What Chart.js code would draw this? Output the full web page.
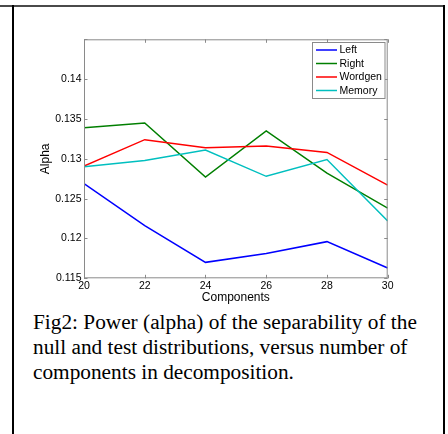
<!DOCTYPE html>
<html>
<head>
<meta charset="utf-8">
<script src="https://cdn.jsdelivr.net/npm/chart.js@4/dist/chart.umd.min.js"></script>
<style>
  body { margin: 0; background: #fff; }
  #wrap { position: relative; width: 448px; height: 434px; overflow: hidden; }
  #topline { position: absolute; left: 0; top: 5px; width: 445px; height: 2px; background: #4a4a4a; }
  #leftline { position: absolute; left: 12px; top: 5px; width: 2px; height: 429px; background: #000; }
  #rightline { position: absolute; left: 443px; top: 5px; width: 2px; height: 429px; background: #000; }
  #chartbox { position: absolute; left: 0; top: 0; width: 448px; height: 310px; }
  #caption {
    position: absolute; left: 33px; top: 309.5px;
    font-family: "Liberation Serif", "Times New Roman", serif;
    font-size: 21.3px; line-height: 25px; color: #000; white-space: nowrap;
  }
</style>
</head>
<body>
<div id="wrap">
  <div id="topline"></div>
  <div id="leftline"></div>
  <div id="rightline"></div>
  <div id="chartbox"><canvas id="myChart" width="448" height="310"></canvas></div>
  <div id="caption">Fig2: Power (alpha) of the separability of the<br>null and test distributions, versus number of<br>components in decomposition.</div>
</div>
<script>
// components on the x axis
var components = [20, 22, 24, 26, 28, 30];
var leftVals = [0.1269, 0.1216, 0.1170, 0.1181, 0.1196, 0.1163];
var rightVals = [0.1339, 0.1345, 0.1277, 0.1335, 0.1282, 0.1238];
var wordgenVals = [0.1291, 0.1324, 0.1314, 0.1316, 0.1308, 0.1267];
var memoryVals = [0.1290, 0.1298, 0.1311, 0.1278, 0.1299, 0.1222];
var seriesNames = ["Left", "Right", "Wordgen", "Memory"];
var seriesColors = ["#0000ff", "#007f00", "#ff0000", "#00bfbf"];
var xTicks = [20, 22, 24, 26, 28, 30];
var yTicks = [0.115, 0.12, 0.125, 0.13, 0.135, 0.14, 0.145];

var font = "'Liberation Sans', Arial, Helvetica, sans-serif";

function toPoints(vals) {
  return components.map(function (c, i) { return {x: c, y: vals[i]}; });
}

var allVals = [leftVals, rightVals, wordgenVals, memoryVals];
var datasets = seriesNames.map(function (name, i) {
  return {
    label: name,
    data: toPoints(allVals[i]),
    borderColor: seriesColors[i],
    backgroundColor: seriesColors[i],
    borderWidth: 1.5,
    pointRadius: 0,
    tension: 0,
    order: seriesNames.length - i
  };
});

// matlab style box, inward ticks and legend box
var matlabBox = {
  id: "matlabBox",
  afterDatasetsDraw: function (chart) {
    var ctx = chart.ctx;
    var a = chart.chartArea;
    var xs = chart.scales.x, ys = chart.scales.y;
    ctx.save();
    ctx.strokeStyle = "#8a8a8a";
    ctx.lineWidth = 1;
    ctx.strokeRect(a.left + 0.5, a.top + 0.5, a.right - a.left - 1, a.bottom - a.top - 1);
    ctx.beginPath();
    xs.ticks.forEach(function (t) {
      var px = Math.round(xs.getPixelForValue(t.value)) + 0.5;
      ctx.moveTo(px, a.bottom); ctx.lineTo(px, a.bottom - 3.5);
      ctx.moveTo(px, a.top); ctx.lineTo(px, a.top + 3.5);
    });
    ys.ticks.forEach(function (t) {
      var py = Math.round(ys.getPixelForValue(t.value)) + 0.5;
      ctx.moveTo(a.left, py); ctx.lineTo(a.left + 3.5, py);
      ctx.moveTo(a.right, py); ctx.lineTo(a.right - 3.5, py);
    });
    ctx.stroke();

    // legend
    var bx = 312.5, by = 42.5, bw = 72.5, bh = 56;
    ctx.fillStyle = "#fff";
    ctx.fillRect(bx, by, bw, bh);
    ctx.strokeStyle = "#8a8a8a";
    ctx.strokeRect(bx, by, bw, bh);
    ctx.font = "10.5px " + font;
    ctx.textBaseline = "middle";
    ctx.textAlign = "left";
    chart.data.datasets.forEach(function (ds, i) {
      var yy = 50 + i * 13.5;
      ctx.strokeStyle = ds.borderColor;
      ctx.lineWidth = 1.5;
      ctx.beginPath();
      ctx.moveTo(316, yy); ctx.lineTo(337, yy);
      ctx.stroke();
      ctx.fillStyle = "#000";
      ctx.fillText(ds.label, 339.5, yy + 0.5);
    });
    ctx.restore();
  }
};

new Chart("myChart", {
  type: "line",
  data: { datasets: datasets },
  options: {
    responsive: false,
    animation: false,
    layout: { padding: { left: 38.5, right: 60.3, top: 39.3, bottom: 4.7 } },
    plugins: { legend: { display: false }, tooltip: { enabled: false } },
    scales: {
      x: {
        type: "linear",
        min: 20, max: 30,
        border: { display: false },
        grid: { display: false, drawTicks: false },
        afterBuildTicks: function (s) { s.ticks = xTicks.map(function (v) { return {value: v}; }); },
        afterFit: function (s) { s.height = 27; },
        ticks: { color: "#000", padding: 3, font: { family: font, size: 10.5, lineHeight: 1 } },
        title: { display: true, text: "Components", color: "#000", padding: { top: 1, bottom: 0 },
                 font: { family: font, size: 12, lineHeight: 1.2 } }
      },
      y: {
        min: 0.115, max: 0.145,
        border: { display: false },
        grid: { display: false, drawTicks: false },
        afterBuildTicks: function (s) { s.ticks = yTicks.map(function (v) { return {value: v}; }); },
        afterFit: function (s) { s.width = 45.5; },
        ticks: {
          color: "#000", padding: 2.5, font: { family: font, size: 10.5 },
          callback: function (v) { return v > 0.1425 ? "" : String(+v.toFixed(3)); }
        },
        title: { display: true, text: "Alpha", color: "#000", padding: 0,
                 font: { family: font, size: 12, lineHeight: 1.2 } }
      }
    }
  },
  plugins: [matlabBox]
});
</script>
</body>
</html>
